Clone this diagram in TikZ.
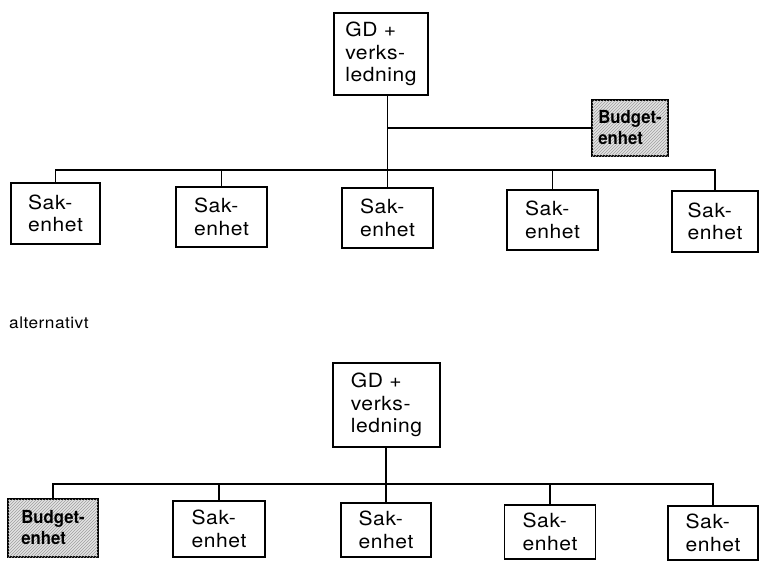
\documentclass[tikz,border=0pt]{standalone}
\usepackage{fontspec}
\setmainfont{TeX Gyre Heros}[FakeStretch=1.08, LetterSpace=3]
\newfontfamily\budfont{TeX Gyre Heros}[FakeStretch=0.93]
\usetikzlibrary{patterns}
\newcommand\unitfont{\fontsize{19.5}{22.5}\selectfont}
\tikzset{
  unit/.style={draw, line width=1.4pt, align=left, inner sep=0pt, font=\unitfont},
  budget/.style={unit, fill=gray!22,
    postaction={pattern=north east lines, pattern color=gray!75},
    font=\budfont\bfseries\fontsize{18}{21}\selectfont},
  link/.style={line width=1.3pt},
  label/.style={font=\fontsize{16}{19}\selectfont, inner sep=0pt, anchor=base west},
}
\begin{document}
\begin{tikzpicture}[x=1pt, y=-1pt]
\useasboundingbox (0,0) rectangle (760,560);

% ---------- first arrangement ----------
\node[unit, minimum width=94, minimum height=82] (gd1) at (381,54) {GD +\\verks-\\ledning};
\node[budget, minimum width=76, minimum height=56] (bud1) at (630,128) {Budget-\\enhet};
\node[unit, minimum width=89, minimum height=61] (s11) at (55.5,213.5) {Sak-\\enhet};
\node[unit, minimum width=91, minimum height=60] (s12) at (221.5,217) {Sak-\\enhet};
\node[unit, minimum width=91, minimum height=60] (s13) at (387.5,218) {Sak-\\enhet};
\node[unit, minimum width=91, minimum height=60] (s14) at (552.5,220) {Sak-\\enhet};
\node[unit, minimum width=86, minimum height=61] (s15) at (715,221.5) {Sak-\\enhet};
\coordinate (bus1) at (388,170);

\draw[link] (gd1.south -| s13.north) -- (s13.north);
\draw[link] (bud1.west) -- (bud1.west -| s13.north);
\draw[link] (s11.north) -- (s11.north |- bus1) -- (s15.north |- bus1) -- (s15.north);
\draw[link] (s12.north) -- (s12.north |- bus1);
\draw[link] (s14.north) -- (s14.north |- bus1);

\node[label] (alt) at (9,328) {alternativt};

% ---------- second arrangement ----------
\node[unit, minimum width=107, minimum height=84] (gd2) at (386.5,405) {GD +\\verks-\\ledning};
\node[budget, minimum width=90, minimum height=58] (bud2) at (53,528) {Budget-\\enhet};
\node[unit, minimum width=92, minimum height=56] (s22) at (219,529) {Sak-\\enhet};
\node[unit, minimum width=90, minimum height=54] (s23) at (386,530) {Sak-\\enhet};
\node[unit, minimum width=91, minimum height=54] (s24) at (550,532) {Sak-\\enhet};
\node[unit, minimum width=90, minimum height=54] (s25) at (713,533) {Sak-\\enhet};
\coordinate (bus2) at (386,484);

\draw[link] (gd2.south -| s23.north) -- (s23.north);
\draw[link] (bud2.north) -- (bud2.north |- bus2) -- (s25.north |- bus2) -- (s25.north);
\draw[link] (s22.north) -- (s22.north |- bus2);
\draw[link] (s24.north) -- (s24.north |- bus2);
\end{tikzpicture}
\end{document}
